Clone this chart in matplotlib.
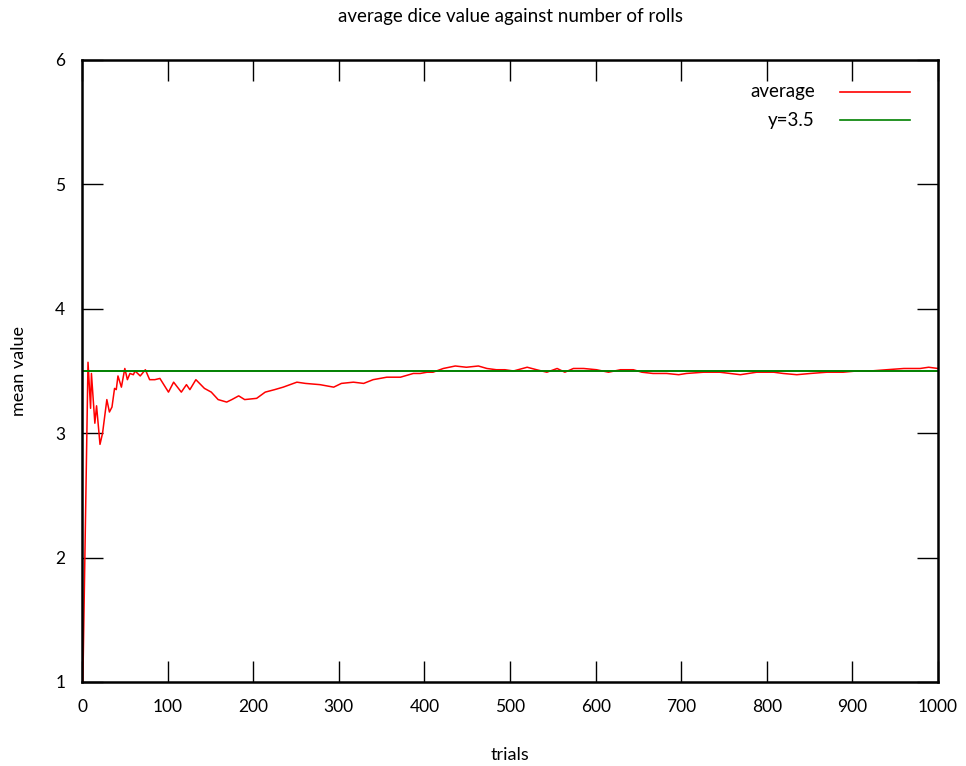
import matplotlib
matplotlib.use("Agg")
import matplotlib.pyplot as plt

plt.rcParams['font.family'] = ['Lato', 'DejaVu Sans']

# running mean of dice rolls
trials = [1, 7, 10, 11, 15, 17, 21, 24, 29, 32, 35, 38, 40, 42, 46, 50, 53, 56, 60, 62,
          68, 74, 79, 85, 91, 101, 107, 116, 122, 126, 133, 143, 151, 159, 169, 175, 183, 190,
          204, 214, 225, 235, 251, 261, 278, 294, 303, 317, 329, 340, 356, 372, 387, 395,
          403, 410, 422, 436, 449, 463, 473, 484, 494, 504, 520, 531, 543, 555, 564, 574,
          586, 601, 615, 629, 644, 654, 667, 683, 697, 706, 726, 745, 769, 788, 808, 819,
          835, 851, 870, 889, 905, 921, 940, 960, 979, 989, 1000]
mean_values = [1.00, 3.57, 3.20, 3.48, 3.08, 3.22, 2.91, 3.00, 3.27, 3.17, 3.21, 3.36, 3.35, 3.46, 3.37, 3.52, 3.43, 3.48, 3.47, 3.50,
               3.46, 3.51, 3.43, 3.43, 3.44, 3.33, 3.41, 3.33, 3.39, 3.35, 3.43, 3.36, 3.33, 3.27, 3.25, 3.27, 3.30, 3.27,
               3.28, 3.33, 3.35, 3.37, 3.41, 3.40, 3.39, 3.37, 3.40, 3.41, 3.40, 3.43, 3.45, 3.45, 3.48, 3.48,
               3.49, 3.49, 3.52, 3.54, 3.53, 3.54, 3.52, 3.51, 3.51, 3.50, 3.53, 3.51, 3.49, 3.52, 3.49, 3.52,
               3.52, 3.51, 3.49, 3.51, 3.51, 3.49, 3.48, 3.48, 3.47, 3.48, 3.49, 3.49, 3.47, 3.49, 3.49, 3.48,
               3.47, 3.48, 3.49, 3.49, 3.50, 3.50, 3.51, 3.52, 3.52, 3.53, 3.52]
expected = 3.5

x_ticks = [0, 100, 200, 300, 400, 500, 600, 700, 800, 900, 1000]
y_ticks = [1, 2, 3, 4, 5, 6]

fig = plt.figure(figsize=(9.66, 7.66), dpi=100)
ax = fig.add_axes([0.0849, 0.1097, 0.8862, 0.812])

ax.plot(trials, mean_values, color='red', linewidth=1.1)
ax.axhline(expected, color='#008000', linewidth=1.4)

ax.set_xlim(0, 1000)
ax.set_ylim(1, 6)
ax.set_xticks(x_ticks)
ax.set_yticks(y_ticks)
ax.tick_params(direction='in', length=15, width=1, labelsize=12.5,
               top=True, right=True, pad=12)
for s in ax.spines.values():
    s.set_linewidth(1.8)

ax.set_title('average dice value against number of rolls', fontsize=13.5, pad=27)
ax.set_xlabel('trials', fontsize=13, labelpad=23)
ax.set_ylabel('mean value', fontsize=13, labelpad=20)

# legend drawn gnuplot style: text right-aligned, sample to the right
legend_items = [('average', 'red', 0.9486), ('y=3.5', '#008000', 0.9035)]
for label, col, yy in legend_items:
    ax.text(0.856, yy, label, transform=ax.transAxes, ha='right', va='center', fontsize=13.5)
    ax.plot([0.885, 0.967], [yy, yy], transform=ax.transAxes, color=col, linewidth=1.2)

fig.savefig('out.png', dpi=100)
